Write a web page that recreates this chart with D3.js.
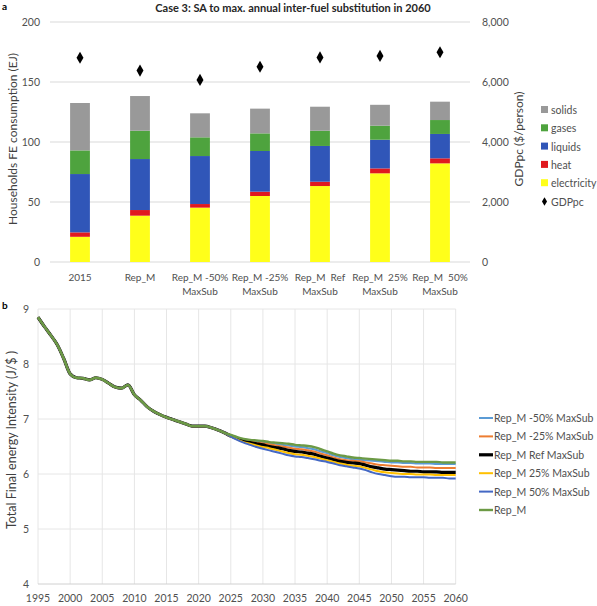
<!DOCTYPE html>
<html>
<head>
<meta charset="utf-8">
<script src="https://cdn.jsdelivr.net/npm/d3@7"></script>
<style>
  body { margin: 0; background: #fff; }
  svg { font-family: Lato, "Open Sans", sans-serif; }
  .tick-lab { fill: #505050; font-size: 10.5px; }
  .cat-lab { fill: #505050; font-size: 10px; }
</style>
</head>
<body>
<div id="chart"></div>
<script>
// panel a: stacked households FE consumption + GDPpc
var scenarios = ["2015", "Rep_M", "Rep_M -50%|MaxSub", "Rep_M -25%|MaxSub", "Rep_M  Ref|MaxSub", "Rep_M  25%|MaxSub", "Rep_M  50%|MaxSub"];
var electricity = [21.0, 38.6, 45.3, 55.0, 63.3, 73.9, 82.2];
var heat        = [3.7, 4.7, 3.0, 3.6, 3.6, 4.1, 4.2];
var liquids     = [48.6, 42.5, 40.0, 33.9, 29.8, 23.9, 20.3];
var gases       = [19.7, 23.6, 15.6, 14.7, 12.7, 11.7, 11.6];
var solids      = [39.5, 28.9, 20.0, 20.6, 20.0, 17.4, 15.3];
var gdppc       = [6810, 6380, 6070, 6510, 6820, 6870, 6990];
var fuels = ["electricity", "heat", "liquids", "gases", "solids"];
var fuelColors = {electricity: "#ffff1a", heat: "#e0191f", liquids: "#3056b8", gases: "#4ea33e", solids: "#999999"};
var leftTicks = [0, 50, 100, 150, 200];
var rightTicks = [0, 2000, 4000, 6000, 8000];

// panel b: total final energy intensity
var years = d3.range(1995, 2061);
var histValues = [8.85, 8.68, 8.52, 8.35, 8.10, 7.82, 7.75, 7.74, 7.71, 7.75,
                  7.72, 7.65, 7.58, 7.56, 7.62, 7.44, 7.34, 7.22, 7.14, 7.08,
                  7.03, 6.99, 6.95, 6.91, 6.87, 6.87, 6.87, 6.84, 6.80, 6.75];
var repM = [6.71, 6.67, 6.64, 6.62, 6.61, 6.60, 6.58, 6.57, 6.56, 6.55, 6.53, 6.52, 6.51, 6.49, 6.45, 6.41, 6.37, 6.34,
            6.32, 6.30, 6.29, 6.28, 6.27, 6.26, 6.25, 6.24, 6.24, 6.23, 6.23, 6.22, 6.22, 6.22, 6.22, 6.21, 6.21, 6.21];
var m50 = [6.70, 6.66, 6.63, 6.61, 6.59, 6.58, 6.56, 6.55, 6.53, 6.52, 6.50, 6.49, 6.47, 6.45, 6.41, 6.38, 6.34, 6.31,
           6.29, 6.27, 6.26, 6.25, 6.24, 6.23, 6.22, 6.21, 6.21, 6.20, 6.20, 6.19, 6.19, 6.19, 6.18, 6.18, 6.18, 6.18];
var m25 = [6.70, 6.66, 6.62, 6.59, 6.57, 6.56, 6.54, 6.52, 6.50, 6.48, 6.46, 6.45, 6.43, 6.41, 6.37, 6.34, 6.30, 6.27,
           6.25, 6.24, 6.23, 6.21, 6.19, 6.17, 6.16, 6.15, 6.14, 6.13, 6.13, 6.12, 6.12, 6.12, 6.11, 6.11, 6.11, 6.11];
var ref = [6.69, 6.65, 6.60, 6.57, 6.55, 6.53, 6.50, 6.48, 6.46, 6.43, 6.41, 6.40, 6.38, 6.36, 6.32, 6.29, 6.26, 6.23,
           6.21, 6.20, 6.19, 6.16, 6.13, 6.11, 6.09, 6.08, 6.07, 6.06, 6.05, 6.05, 6.04, 6.04, 6.04, 6.03, 6.03, 6.03];
var p25 = [6.68, 6.63, 6.58, 6.55, 6.52, 6.49, 6.47, 6.44, 6.41, 6.38, 6.36, 6.35, 6.33, 6.31, 6.28, 6.25, 6.22, 6.19,
           6.17, 6.15, 6.14, 6.11, 6.08, 6.05, 6.03, 6.02, 6.01, 6.00, 6.00, 5.99, 5.99, 5.99, 5.98, 5.98, 5.98, 5.98];
var p50 = [6.68, 6.62, 6.57, 6.53, 6.49, 6.46, 6.43, 6.40, 6.37, 6.34, 6.32, 6.31, 6.29, 6.27, 6.24, 6.22, 6.19, 6.16,
           6.14, 6.12, 6.10, 6.07, 6.03, 6.00, 5.98, 5.96, 5.95, 5.95, 5.94, 5.94, 5.94, 5.93, 5.93, 5.93, 5.92, 5.92];
var seriesNames = ["Rep_M -50% MaxSub", "Rep_M -25% MaxSub", "Rep_M Ref MaxSub", "Rep_M 25% MaxSub", "Rep_M 50% MaxSub", "Rep_M"];
var seriesValues = [m50, m25, ref, p25, p50, repM];
var seriesColors = ["#5b9bd5", "#ed7d31", "#000000", "#ffc000", "#4468c4", "#6c9a45"];
var seriesWidths = [2, 2, 3.2, 2, 2, 2.4];
var yearTicks = d3.range(1995, 2061, 5);
var intensityTicks = [4, 5, 6, 7, 8, 9];

var svg = d3.select("#chart").append("svg")
    .attr("width", 597)
    .attr("height", 606);

// ---------- panel a ----------
svg.append("text").attr("x", 2).attr("y", 10).text("a")
    .attr("font-weight", "bold").attr("font-size", "10px");
svg.append("text").attr("x", 293).attr("y", 12).text("Case 3: SA to max. annual inter-fuel substitution in 2060")
    .attr("text-anchor", "middle").attr("font-weight", "bold").attr("font-size", "11px").attr("fill", "#262626");

var x = d3.scaleBand().domain(scenarios).range([50, 470]).paddingInner(0.67).paddingOuter(0.335);
var y = d3.scaleLinear().domain([0, 200]).range([262, 22]);
var y2 = d3.scaleLinear().domain([0, 8000]).range([262, 22]);

var ga = svg.append("g");
ga.selectAll(".grid").data(leftTicks).enter().append("line")
    .attr("x1", 50).attr("x2", 470)
    .attr("y1", d => y(d)).attr("y2", d => y(d))
    .attr("stroke", "#d9d9d9").attr("stroke-width", 1);

var rows = scenarios.map(function(s, i){
    return {scenario: s, electricity: electricity[i], heat: heat[i], liquids: liquids[i], gases: gases[i], solids: solids[i]};
});
var stacked = d3.stack().keys(fuels)(rows);

ga.selectAll(".layer").data(stacked).enter().append("g")
    .attr("fill", d => fuelColors[d.key])
  .selectAll("rect").data(d => d).enter().append("rect")
    .attr("x", d => x(d.data.scenario))
    .attr("width", x.bandwidth())
    .attr("y", d => y(d[1]))
    .attr("height", d => y(d[0]) - y(d[1]));

ga.selectAll(".gdp").data(gdppc).enter().append("path")
    .attr("d", d3.symbol().type(d3.symbolDiamond).size(42))
    .attr("transform", (d, i) => "translate(" + (x(scenarios[i]) + x.bandwidth() / 2) + "," + y2(d) + ")")
    .attr("fill", "#000");

// left axis labels
ga.selectAll(".ly").data(leftTicks).enter().append("text")
    .attr("class", "tick-lab")
    .attr("x", 40).attr("y", d => y(d) + 4)
    .attr("text-anchor", "end")
    .text(d => d);
// right axis labels
ga.selectAll(".ry").data(rightTicks).enter().append("text")
    .attr("class", "tick-lab")
    .attr("x", 482).attr("y", d => y2(d) + 4)
    .text(d => d3.format(",")(d));

// category labels
var cat = ga.selectAll(".cat").data(scenarios).enter().append("text")
    .attr("class", "cat-lab")
    .attr("text-anchor", "middle")
    .attr("x", d => x(d) + x.bandwidth() / 2)
    .attr("y", 281);
cat.selectAll("tspan").data(d => d.split("|")).enter().append("tspan")
    .attr("x", function(){ return d3.select(this.parentNode).attr("x"); })
    .attr("dy", (d, i) => i == 0 ? 0 : 14)
    .attr("xml:space", "preserve")
    .text(d => d);

ga.append("text")
    .attr("transform", "translate(17,139) rotate(-90)")
    .attr("text-anchor", "middle").attr("font-size", "12px").attr("fill", "#404040")
    .text("Households FE consumption (EJ)");
ga.append("text")
    .attr("transform", "translate(523,139) rotate(-90)")
    .attr("text-anchor", "middle").attr("font-size", "12px").attr("fill", "#404040")
    .text("GDPpc ($/person)");

// legend a
var legA = ga.append("g").attr("transform", "translate(541,110)");
var legKeys = ["solids", "gases", "liquids", "heat", "electricity"];
legKeys.forEach(function(k, i){
    legA.append("rect").attr("x", 0).attr("y", i * 18.3 - 4).attr("width", 7).attr("height", 7).attr("fill", fuelColors[k]);
    legA.append("text").attr("class", "tick-lab").attr("x", 10).attr("y", i * 18.3 + 4).text(k);
});
legA.append("path").attr("d", d3.symbol().type(d3.symbolDiamond).size(22))
    .attr("transform", "translate(3.5," + (5 * 18.3) + ")").attr("fill", "#000");
legA.append("text").attr("class", "tick-lab").attr("x", 10).attr("y", 5 * 18.3 + 4).text("GDPpc");

// ---------- panel b ----------
svg.append("text").attr("x", 2).attr("y", 309).text("b")
    .attr("font-weight", "bold").attr("font-size", "10px");

var xb = d3.scaleLinear().domain([1995, 2060]).range([38, 455.7]);
var yb = d3.scaleLinear().domain([4, 9]).range([584, 309]);

var gb = svg.append("g");
gb.selectAll(".vg").data(yearTicks).enter().append("line")
    .attr("x1", d => xb(d)).attr("x2", d => xb(d))
    .attr("y1", 309).attr("y2", 584)
    .attr("stroke", "#e6e6e6");
gb.selectAll(".hg").data(intensityTicks).enter().append("line")
    .attr("x1", 38).attr("x2", 455.7)
    .attr("y1", d => yb(d)).attr("y2", d => yb(d))
    .attr("stroke", d => d == 4 ? "#d0d0d0" : "#e6e6e6");

gb.selectAll(".yl").data(intensityTicks).enter().append("text")
    .attr("class", "tick-lab")
    .attr("x", 29).attr("y", d => yb(d) + 4)
    .attr("text-anchor", "end")
    .text(d => d);
gb.selectAll(".xl").data(yearTicks).enter().append("text")
    .attr("class", "tick-lab")
    .attr("x", d => xb(d)).attr("y", 602)
    .attr("text-anchor", "middle")
    .text(d => d);

var line = d3.line()
    .x((d, i) => xb(years[i]))
    .y(d => yb(d))
    .curve(d3.curveMonotoneX);

gb.selectAll(".series").data(seriesValues).enter().append("path")
    .attr("d", d => line(histValues.concat(d)))
    .attr("fill", "none")
    .attr("stroke", (d, i) => seriesColors[i])
    .attr("stroke-width", (d, i) => seriesWidths[i]);

gb.append("text")
    .attr("transform", "translate(16,440) rotate(-90)")
    .attr("text-anchor", "middle").attr("font-size", "12.5px").attr("fill", "#404040")
    .text("Total Final energy Intensity (J/$ )");

// legend b
var legB = gb.append("g").attr("transform", "translate(479,418)");
seriesNames.forEach(function(n, i){
    legB.append("line").attr("x1", 0).attr("x2", 14)
        .attr("y1", i * 18.4).attr("y2", i * 18.4)
        .attr("stroke", seriesColors[i]).attr("stroke-width", seriesWidths[i]);
    legB.append("text").attr("class", "tick-lab").attr("x", 15).attr("y", i * 18.4 + 4).text(n);
});
</script>
</body>
</html>
